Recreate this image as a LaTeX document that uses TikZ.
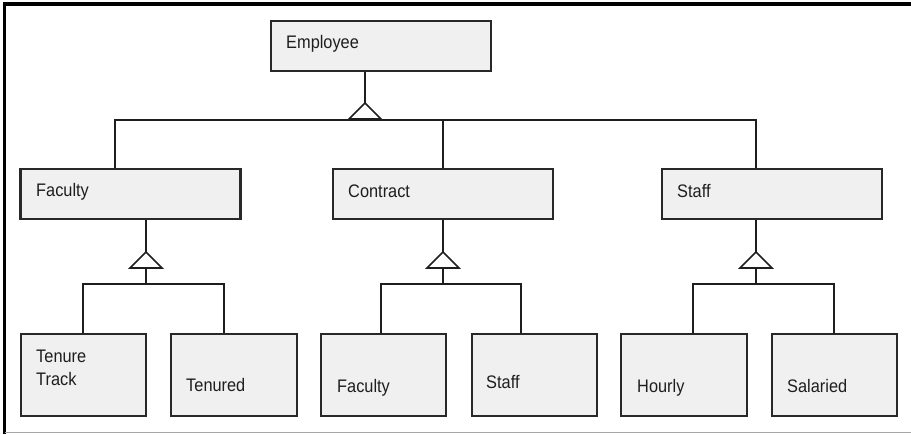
\documentclass[tikz,border=0pt]{standalone}
\usepackage{fontspec}
\setmainfont{Liberation Sans}[FakeStretch=0.9]
\usepackage{xcolor}
\definecolor{boxfill}{RGB}{240, 240, 240}
\definecolor{boxline}{RGB}{40, 40, 40}
\definecolor{linecol}{RGB}{30, 30, 30}
\definecolor{labeltext}{RGB}{30, 30, 30}
\newcommand{\lblfont}{\fontsize{15.5}{19.6}\selectfont}

\begin{document}
\begin{tikzpicture}[x=0.3mm, y=-0.3mm,
    cls/.style={draw=boxline, fill=boxfill, line width=1.8pt, inner sep=0pt},
    toprow/.style={cls, minimum width=66mm, minimum height=15mm},
    leafrow/.style={cls, minimum width=37.6mm, minimum height=24.6mm},
    lbl/.style={anchor=base west, inner sep=0pt, text=labeltext, font=\lblfont, align=left},
    link/.style={draw=linecol, line width=1.4pt},
    isa/.style={link, fill=white, line join=miter}]

    \useasboundingbox (0,0) rectangle (911,434);

    % ==========================================================
    % marco
    % ==========================================================
    \draw[line width=2.6pt, black] (911,4) -- (4.5,4) -- (4.5,434);
    \draw[line width=1.2pt, gray!70] (4.5,432.5) -- (911,432.5);

    % ==========================================================
    % clases
    % ==========================================================
    \node[toprow] (emp) at (381,46) {};
    \node[toprow] (fac) at (130.5,194) {};
    \node[toprow] (con) at (443,194) {};
    \node[toprow] (stf) at (772,194) {};

    \node[leafrow] (tt)   at (83.5,375) {};
    \node[leafrow] (ten)  at (234,375) {};
    \node[leafrow] (cfac) at (383.5,375) {};
    \node[leafrow] (cstf) at (534.5,375) {};
    \node[leafrow] (hr)   at (684,375) {};
    \node[leafrow] (sal)  at (834.5,375) {};

    % textos (base = ultima linea)
    \node[lbl] (empT)  at (286,48)  {Employee};
    \node[lbl] (facT)  at (36,196)  {Faculty};
    \node[lbl] (conT)  at (348,197) {Contract};
    \node[lbl] (stfT)  at (677,197) {Staff};
    \node[lbl] (ttT)   at (36,385)  {Tenure\\Track};
    \node[lbl] (tenT)  at (186,391) {Tenured};
    \node[lbl] (cfacT) at (337,392) {Faculty};
    \node[lbl] (cstfT) at (486,388) {Staff};
    \node[lbl] (hrT)   at (637,392) {Hourly};
    \node[lbl] (salT)  at (787,392) {Salaried};

    % ==========================================================
    % generalizacion superior
    % ==========================================================
    \coordinate (empA) at (365,103);
    \coordinate (barL) at (115,120);
    \coordinate (barR) at (756,120);
    \draw[link] (emp.south -| empA) -- (empA);
    \draw[link] (fac.north -| barL) |- (barR) -- (stf.north -| barR);
    \draw[link] (con.north) -- (con.north |- barL);
    \draw[isa] (empA) -- ++(-16,16) -- ++(32,0) -- cycle;

    % ==========================================================
    % generalizaciones inferiores
    % ==========================================================
    \foreach \p/\a/\l/\r/\cl/\cr in {fac/146/83/224/tt/ten,
                                     con/443/381/521/cfac/cstf,
                                     stf/756/693/834/hr/sal} {
        \coordinate (\p A) at (\a,252);
        \coordinate (\p B) at (\a,284);
        \draw[link] (\p.south -| \p A) -- (\p A) -- (\p B);
        \draw[link] (\cl.north -| \l,0) |- (\p B) -| (\cr.north -| \r,0);
        \draw[isa] (\p A) -- ++(-16,16) -- ++(32,0) -- cycle;
    }

\end{tikzpicture}
\end{document}
